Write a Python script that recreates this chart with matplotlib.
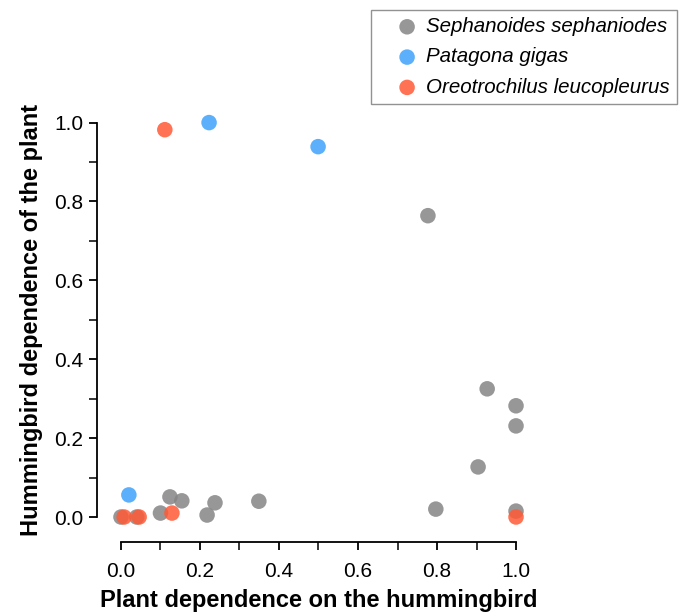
import numpy as np
import matplotlib
matplotlib.use("Agg")
import matplotlib.pyplot as plt
from matplotlib.ticker import MultipleLocator

plt.rcParams['font.family'] = ['Liberation Sans', 'DejaVu Sans']

# Sephanoides sephaniodes
seph_x = [0.0, 0.04, 0.10, 0.124, 0.154, 0.218, 0.238, 0.349, 0.777, 0.927, 1.0, 1.0, 0.904, 0.797, 1.0]
seph_y = [0.0, 0.0, 0.01, 0.051, 0.041, 0.005, 0.036, 0.040, 0.764, 0.325, 0.282, 0.231, 0.127, 0.020, 0.015]

# Patagona gigas
pat_x = [0.223, 0.499, 0.020]
pat_y = [1.0, 0.939, 0.056]

# Oreotrochilus leucopleurus
oreo_x = [0.111, 0.129, 0.008, 0.046, 1.0]
oreo_y = [0.982, 0.010, 0.0, 0.0, 0.0]

species = ["Sephanoides sephaniodes", "Patagona gigas", "Oreotrochilus leucopleurus"]
colors = ["#858585", "#3fa2fb", "#ff5a36"]

fig = plt.figure(figsize=(6.82, 6.13), dpi=100)
ax = fig.add_axes([0.16, 0.1373, 0.614, 0.682])

for (xs, ys), name, c in zip([(seph_x, seph_y), (pat_x, pat_y), (oreo_x, oreo_y)], species, colors):
    ax.scatter(xs, ys, s=125, color=c, alpha=0.85, edgecolors='none', label=name, clip_on=False, zorder=3)

ax.set_xlim(-0.03, 1.03)
ax.set_ylim(-0.03, 1.03)

for s in ['top', 'right']:
    ax.spines[s].set_visible(False)
ax.spines['left'].set_position(('outward', 8.6))
ax.spines['bottom'].set_position(('outward', 9.4))
ax.spines['left'].set_bounds(0, 1)
ax.spines['bottom'].set_bounds(0, 1)
ax.spines['left'].set_linewidth(1.3)
ax.spines['bottom'].set_linewidth(1.3)

ax.xaxis.set_major_locator(MultipleLocator(0.2))
ax.xaxis.set_minor_locator(MultipleLocator(0.1))
ax.yaxis.set_major_locator(MultipleLocator(0.2))
ax.yaxis.set_minor_locator(MultipleLocator(0.1))
ax.xaxis.set_major_formatter(plt.FormatStrFormatter('%.1f'))
ax.yaxis.set_major_formatter(plt.FormatStrFormatter('%.1f'))
ax.tick_params(which='major', length=6, width=1.3, labelsize=15, direction='out')
ax.tick_params(which='minor', length=6, width=1.1, direction='out')
ax.tick_params(axis='x', which='major', pad=8.5)
ax.tick_params(axis='y', which='major', pad=4)

ax.set_xlabel("Plant dependence on the hummingbird", fontsize=17, fontweight='bold', labelpad=6)
ax.set_ylabel("Hummingbird dependence of the plant", fontsize=17, fontweight='bold', labelpad=8)

leg = fig.legend(loc='upper right', bbox_to_anchor=(0.9927, 0.9837), frameon=True, fancybox=False,
                 prop={'style': 'italic', 'size': 14.8}, handlelength=2.8, handletextpad=-0.47,
                 borderpad=0.35, labelspacing=0.55, scatterpoints=1, borderaxespad=0)
leg.get_frame().set_edgecolor('#777777')
leg.get_frame().set_linewidth(1.0)
for h in leg.legend_handles:
    h.set_alpha(0.85)

fig.savefig("out.png", dpi=100)
